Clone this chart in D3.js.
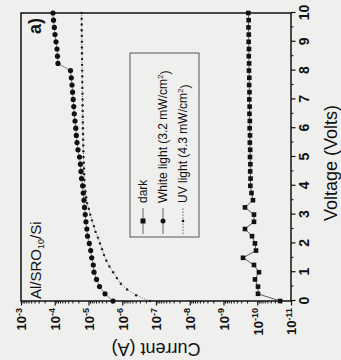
<!DOCTYPE html>
<html><head><meta charset="utf-8">
<script src="https://cdn.jsdelivr.net/npm/d3@7/dist/d3.min.js"></script>
<style>body{margin:0;background:#efefed}svg{display:block}</style>
</head><body>
<script>
// ---- data (original, un-rotated chart: Voltage on x, Current on y) ----
const darkVoltage = [0,0.25,0.5,0.75,1,1.25,1.5,1.75,2,2.25,2.5,2.75,3,3.25,3.5,3.75,4,4.25,4.5,4.75,5,5.25,5.5,5.75,6,6.25,6.5,6.75,7,7.25,7.5,7.75,8,8.25,8.5,8.75,9,9.25,9.5,9.75,10];
const darkCurrent = [2.1e-11,9.5e-11,9.5e-11,1.17e-10,8.9e-11,1.25e-10,2.64e-10,1.09e-10,1.17e-10,1.43e-10,2.31e-10,1.25e-10,1.25e-10,2.31e-10,1.34e-10,1.48e-10,1.60e-10,1.58e-10,1.62e-10,1.60e-10,1.64e-10,1.62e-10,1.66e-10,1.64e-10,1.68e-10,1.66e-10,1.70e-10,1.68e-10,1.72e-10,1.70e-10,1.74e-10,1.72e-10,1.76e-10,1.74e-10,1.78e-10,1.76e-10,1.80e-10,1.78e-10,1.82e-10,1.80e-10,1.84e-10];
const whiteVoltage = [0,0.25,0.5,0.75,1,1.25,1.5,1.75,2,2.25,2.5,2.75,3,3.25,3.5,3.75,4,4.25,4.5,4.75,5,5.25,5.5,5.75,6,6.25,6.5,6.75,7,7.25,7.5,7.75,8,8.25,8.5,8.75,9,9.25,9.5,9.75,10];
const whiteCurrent = [1.88e-6,3.24e-6,4.72e-6,5.79e-6,6.87e-6,7.21e-6,8.04e-6,8.6e-6,9.47e-6,1.07e-5,1.12e-5,1.19e-5,1.25e-5,1.31e-5,1.36e-5,1.43e-5,1.49e-5,1.61e-5,1.67e-5,1.73e-5,1.85e-5,2.05e-5,2.19e-5,2.30e-5,2.38e-5,2.51e-5,2.64e-5,2.73e-5,2.84e-5,2.96e-5,3.08e-5,3.23e-5,3.41e-5,8.02e-5,8.3e-5,8.58e-5,9.18e-5,9.84e-5,1.03e-4,1.09e-4,1.13e-4];
const uvVoltage = [0,0.2,0.4,0.6,0.8,1,1.2,1.4,1.6,1.8,2,2.2,2.4,2.6,2.8,3,3.2,3.4,3.6,3.8,4,4.2,4.4,4.6,4.8,5,5.2,5.4,5.6,5.8,6,6.2,6.4,6.6,6.8,7,7.2,7.4,7.6,7.8,8,8.2,8.4,8.6,8.8,9,9.2,9.4,9.6,9.8,10];
const uvCurrent = [1.5e-7,3.9e-7,7.2e-7,1.1e-6,1.45e-6,1.86e-6,2.4e-6,2.95e-6,3.47e-6,3.98e-6,4.57e-6,5.25e-6,6.17e-6,6.9e-6,7.9e-6,8.9e-6,9.8e-6,1.1e-5,1.17e-5,1.23e-5,1.29e-5,1.32e-5,1.35e-5,1.36e-5,1.38e-5,1.41e-5,1.42e-5,1.43e-5,1.44e-5,1.45e-5,1.46e-5,1.47e-5,1.48e-5,1.49e-5,1.50e-5,1.50e-5,1.51e-5,1.52e-5,1.53e-5,1.53e-5,1.54e-5,1.55e-5,1.55e-5,1.56e-5,1.57e-5,1.57e-5,1.58e-5,1.59e-5,1.59e-5,1.60e-5,1.60e-5];
const voltageTicks = [0,1,2,3,4,5,6,7,8,9,10];
const currentTickExponents = [-3,-4,-5,-6,-7,-8,-9,-10,-11];
const legendLabels = ["dark","White light (3.2 mW/cm","UV light (4.3 mW/cm"];

// ---- drawing ----
const FONT = "'Liberation Sans', Arial, sans-serif";
const svg = d3.select("body").append("svg").attr("width",341).attr("height",360);
svg.append("rect").attr("width",341).attr("height",360).attr("fill","#efefed");
const g = svg.append("g").attr("transform","translate(0,360) rotate(-90)").style("font-family",FONT);

const x = d3.scaleLinear().domain([0,10]).range([59,347]);
const y = d3.scaleLog().domain([1e-11,1e-3]).range([291,21]);

// minor ticks
const minorY = [];
for (let e=-11;e<-3;e++) for (let m=2;m<=9;m++) minorY.push(m*Math.pow(10,e));
g.append("g").attr("transform","translate(59,0)")
  .call(d3.axisLeft(y).tickValues(minorY).tickSize(2.5).tickFormat(""))
  .call(a=>a.select(".domain").remove()).selectAll("line").attr("stroke","#111");
g.append("g").attr("transform","translate(0,291)")
  .call(d3.axisBottom(x).tickValues(voltageTicks.slice(0,-1).map(v=>v+0.5)).tickSize(2.5).tickFormat(""))
  .call(a=>a.select(".domain").remove()).selectAll("line").attr("stroke","#111");

// major y axis
const ya = g.append("g").attr("transform","translate(59,0)")
  .call(d3.axisLeft(y).tickValues(currentTickExponents.map(e=>Math.pow(10,e))).tickSize(4.5).tickFormat(""));
ya.select(".domain").remove();
ya.selectAll("line").attr("stroke","#111").attr("stroke-width",1.2);
ya.selectAll(".tick").each(function(d){
  const t = d3.select(this).append("text").attr("x",-7).attr("dy","0.38em")
    .attr("text-anchor","end").attr("fill","#111").style("font-size","13px").style("font-weight","bold");
  t.append("tspan").text("10");
  t.append("tspan").attr("dy","-0.55em").style("font-size","9px").text(String(Math.round(Math.log10(d))));
});

// major x axis
const xa = g.append("g").attr("transform","translate(0,291)")
  .call(d3.axisBottom(x).tickValues(voltageTicks).tickSize(4.5).tickPadding(4).tickFormat(d3.format("d")));
xa.select(".domain").remove();
xa.selectAll("line").attr("stroke","#111").attr("stroke-width",1.2);
xa.selectAll("text").attr("fill","#111").style("font-size","14px").style("font-weight","bold").style("font-family",FONT);

// frame
g.append("rect").attr("x",59).attr("y",21).attr("width",288).attr("height",270)
  .attr("fill","none").attr("stroke","#111").attr("stroke-width",1.5);

// series
const line = d3.line().x(d=>x(d[0])).y(d=>y(d[1]));
const dark = darkVoltage.map((v,i)=>[v,darkCurrent[i]]);
const white = whiteVoltage.map((v,i)=>[v,whiteCurrent[i]]);
const uv = uvVoltage.map((v,i)=>[v,uvCurrent[i]]);

g.append("path").datum(uv).attr("d",line).attr("fill","none").attr("stroke","#444").attr("stroke-width",0.8).attr("stroke-dasharray","1,1.6");
g.append("path").datum(white).attr("d",line).attr("fill","none").attr("stroke","#555").attr("stroke-width",0.7);
g.append("path").datum(dark).attr("d",line).attr("fill","none").attr("stroke","#333").attr("stroke-width",0.8);

g.append("g").selectAll("circle").data(uv).join("circle")
  .attr("cx",d=>x(d[0])).attr("cy",d=>y(d[1])).attr("r",1.2).attr("fill","#222");
g.append("g").selectAll("circle").data(white).join("circle")
  .attr("cx",d=>x(d[0])).attr("cy",d=>y(d[1])).attr("r",2.6).attr("fill","#111");
g.append("g").selectAll("rect").data(dark).join("rect")
  .attr("x",d=>x(d[0])-2.3).attr("y",d=>y(d[1])-2.3).attr("width",4.6).attr("height",4.6).attr("fill","#111");

// legend
g.append("rect").attr("x",123).attr("y",130).attr("width",184).attr("height",69)
  .attr("fill","none").attr("stroke","#555").attr("stroke-width",1);
const legY = [143,163,183];
legendLabels.forEach((lab,i)=>{
  const ly = legY[i];
  g.append("line").attr("x1",126).attr("x2",152).attr("y1",ly).attr("y2",ly)
    .attr("stroke","#444").attr("stroke-width",0.8).attr("stroke-dasharray",i===2?"1.5,1.5":null);
  if(i===0) g.append("rect").attr("x",136.5).attr("y",ly-2.5).attr("width",5).attr("height",5).attr("fill","#111");
  else g.append("circle").attr("cx",139).attr("cy",ly).attr("r",i===1?2.5:1.3).attr("fill","#111");
  const t = g.append("text").attr("x",157).attr("y",ly).attr("dy","0.36em").attr("fill","#111").style("font-size","12px");
  t.append("tspan").text(lab);
  if(i>0){
    t.append("tspan").attr("dy","-0.5em").style("font-size","8px").text("2");
    t.append("tspan").attr("dy","0.5em").text(")");
  }
});

// annotations
g.append("text").attr("x",326).attr("y",41).attr("fill","#111").style("font-size","18px").style("font-weight","bold").text("a)");
const al = g.append("text").attr("x",61).attr("y",41).attr("fill","#111").style("font-size","15px");
al.append("tspan").text("Al/SRO");
al.append("tspan").attr("dy","3").style("font-size","9px").text("10");
al.append("tspan").attr("dy","-3").text("/Si");

// axis titles
g.append("text").attr("transform","translate(17,156) rotate(-90)").attr("text-anchor","middle")
  .attr("fill","#111").style("font-size","18px").text("Current (A)");
g.append("text").attr("x",197).attr("y",337).attr("text-anchor","middle")
  .attr("fill","#111").style("font-size","18px").text("Voltage (Volts)");
</script>
</body></html>
